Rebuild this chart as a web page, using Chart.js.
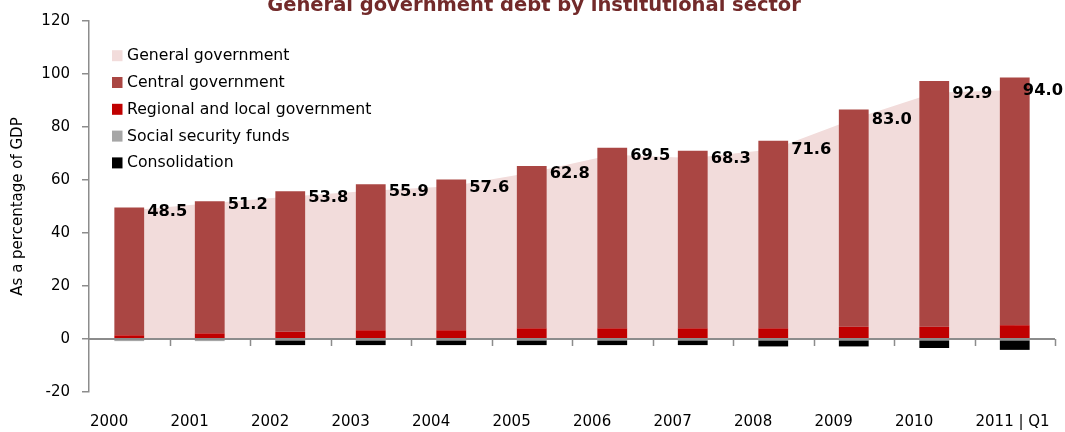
<!DOCTYPE html>
<html>
<head>
<meta charset="utf-8">
<script src="https://cdn.jsdelivr.net/npm/chart.js@4/dist/chart.umd.min.js"></script>
<style>
  html, body { margin: 0; padding: 0; background: #ffffff; }
  #wrap { width: 1065px; height: 432px; position: relative; }
</style>
</head>
<body>
<div id="wrap"><canvas id="chart" width="1065" height="432"></canvas></div>
<script>
// Debt by sub-sector, % of GDP
const years = ['2000', '2001', '2002', '2003', '2004', '2005', '2006', '2007', '2008', '2009', '2010', '2011 | Q1'];
const generalGov    = [48.5, 51.2, 53.8, 55.9, 57.6, 62.8, 69.5, 68.3, 71.6, 83.0, 92.9, 94.0];
const centralGov    = [48.2, 49.9, 53.1, 55.1, 56.9, 61.3, 68.2, 67.0, 70.8, 82.0, 92.8, 93.5];
const regionalGov   = [1.4, 2.1, 2.7, 3.3, 3.3, 4.0, 4.0, 4.0, 4.0, 4.6, 4.6, 5.2];
const socialSec     = [-0.8, -0.8, -0.5, -0.5, -0.5, -0.5, -0.5, -0.5, -0.5, -0.5, -0.5, -0.5];
const consolidation = [0, 0, -1.8, -1.8, -1.8, -1.8, -1.8, -1.8, -2.3, -2.3, -2.9, -3.6];
const yTicks = { min: -20, max: 120, step: 20 };

const titleText = 'General government debt by institutional sector';
const yTitle = 'As a percentage of GDP';

const AXIS_GREY = '#8c8c8c';
const FONT = '"DejaVu Sans", sans-serif';

// Datasets are listed in stacking order; the legend uses its own order
const legendOrder = [0, 2, 1, 3, 4];

// Title, drawn partly above the canvas edge
const titlePlugin = {
  id: 'topTitle',
  afterDraw(chart) {
    const ctx = chart.ctx;
    ctx.save();
    ctx.font = 'bold 19.5px ' + FONT;
    ctx.fillStyle = '#722a2a';
    ctx.textAlign = 'center';
    ctx.textBaseline = 'alphabetic';
    ctx.fillText(titleText, 534, 10.5);
    ctx.restore();
  }
};

// Legend boxes inside the plot area, top-left
const insideLegend = {
  id: 'insideLegend',
  afterDraw(chart) {
    const ctx = chart.ctx;
    ctx.save();
    ctx.font = '15.7px ' + FONT;
    ctx.textBaseline = 'middle';
    ctx.textAlign = 'left';
    legendOrder.forEach((dsIndex, row) => {
      const ds = chart.data.datasets[dsIndex];
      const cy = 55.7 + row * 26.8;
      ctx.fillStyle = ds.backgroundColor;
      ctx.fillRect(112, cy - 5.5, 10.5, 11);
      ctx.fillStyle = '#000000';
      ctx.fillText(ds.label, 127, cy + 0.5);
    });
    ctx.restore();
  }
};

// Zero line with category tick marks below it, and category names
// left-aligned to the start of each category slot at the bottom
const zeroAxis = {
  id: 'zeroAxis',
  afterDatasetsDraw(chart) {
    const { ctx, chartArea, scales } = chart;
    const x = scales.x, y = scales.y;
    const y0 = y.getPixelForValue(0);
    const n = chart.data.labels.length;
    const step = (chartArea.right - chartArea.left) / n;
    ctx.save();
    ctx.strokeStyle = AXIS_GREY;
    ctx.lineWidth = 2;
    ctx.beginPath();
    ctx.moveTo(chartArea.left, y0);
    ctx.lineTo(chartArea.right, y0);
    ctx.stroke();
    ctx.lineWidth = 1.5;
    ctx.beginPath();
    for (let i = 1; i <= n; i++) {
      const px = Math.round(x.getPixelForValue(i - 1) + step / 2) + 0.5;
      ctx.moveTo(px, y0);
      ctx.lineTo(px, y0 + 7);
    }
    ctx.stroke();

    ctx.font = '15px ' + FONT;
    ctx.fillStyle = '#000000';
    ctx.textAlign = 'left';
    ctx.textBaseline = 'middle';
    chart.data.labels.forEach((lab, i) => {
      const left = x.getPixelForValue(i) - step / 2 + 1;
      ctx.fillText(lab, left, chartArea.bottom + 30);
    });
    ctx.restore();
  }
};

// Value labels for the general government total, right of each column
const valueLabels = {
  id: 'valueLabels',
  afterDatasetsDraw(chart) {
    const { ctx, scales } = chart;
    const barMeta = chart.getDatasetMeta(2);
    const lineDs = chart.data.datasets[0];
    ctx.save();
    ctx.font = 'bold 16.3px ' + FONT;
    ctx.fillStyle = '#000000';
    ctx.textAlign = 'left';
    ctx.textBaseline = 'middle';
    lineDs.data.forEach((v, i) => {
      const bar = barMeta.data[i];
      const txt = v.toFixed(1);
      const w = ctx.measureText(txt).width;
      let lx = bar.x + bar.width / 2 + 3;
      lx = Math.min(lx, chart.width - 2 - w);
      ctx.fillText(txt, lx, scales.y.getPixelForValue(v) + 1);
    });
    ctx.restore();
  }
};

const barOpts = { barPercentage: 0.37, categoryPercentage: 1.0, borderWidth: 0 };

new Chart(document.getElementById('chart'), {
  type: 'bar',
  data: {
    labels: years,
    datasets: [
      { type: 'line', label: 'General government', data: generalGov, backgroundColor: '#f2dcdb',
        borderColor: '#f2dcdb', borderWidth: 0, pointRadius: 0, fill: 'origin', tension: 0, order: 5 },
      Object.assign({ label: 'Regional and local government', data: regionalGov, backgroundColor: '#c00000' }, barOpts),
      Object.assign({ label: 'Central government', data: centralGov, backgroundColor: '#aa4643' }, barOpts),
      Object.assign({ label: 'Social security funds', data: socialSec, backgroundColor: '#a6a6a6' }, barOpts),
      Object.assign({ label: 'Consolidation', data: consolidation, backgroundColor: '#000000' }, barOpts)
    ]
  },
  options: {
    responsive: false,
    animation: false,
    devicePixelRatio: 1,
    layout: { padding: { top: 21, right: 10, left: 0, bottom: 0 } },
    plugins: {
      legend: { display: false },
      tooltip: { enabled: false },
      title: { display: false }
    },
    scales: {
      x: {
        stacked: true,
        offset: true,
        grid: { display: false },
        border: { display: false },
        ticks: { display: false },
        afterFit(scale) { scale.height = 40; }
      },
      y: {
        stacked: true,
        min: yTicks.min,
        max: yTicks.max,
        ticks: { stepSize: yTicks.step, font: { family: FONT, size: 15 }, color: '#000000', padding: 12 },
        grid: { drawOnChartArea: false, drawTicks: true, tickLength: 7, color: AXIS_GREY, lineWidth: 1.5 },
        border: { display: true, color: AXIS_GREY, width: 1.5 },
        title: { display: true, text: yTitle, font: { family: FONT, size: 15 }, color: '#000000', padding: { top: 9, bottom: 0 } },
        afterFit(scale) { scale.width = 89; }
      }
    }
  },
  plugins: [zeroAxis, valueLabels, insideLegend, titlePlugin]
});
</script>
</body>
</html>
